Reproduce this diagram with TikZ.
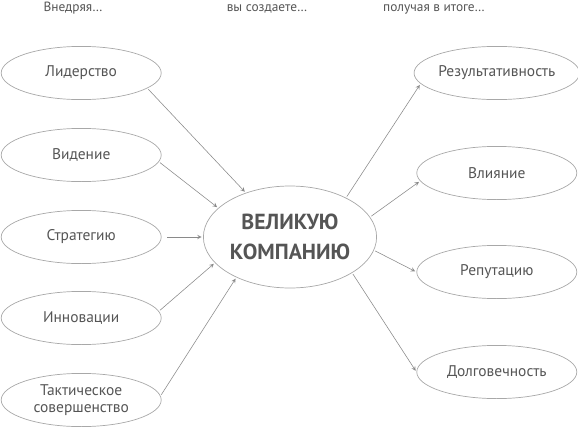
\documentclass[tikz,border=0pt]{standalone}
\usepackage{fontspec}
\setmainfont{PT Sans}
\usetikzlibrary{shapes.geometric}
\definecolor{txtgray}{HTML}{555555}
\definecolor{linegray}{HTML}{A8A8A8}
\definecolor{arrgray}{HTML}{8A8A8A}
\begin{document}
\begin{tikzpicture}[
	oval/.style={ellipse, draw=linegray, line width=0.5pt, inner sep=0pt,
		minimum width=4.0cm, minimum height=1.33cm, text=txtgray,
		font=\fontsize{11}{12.5}\selectfont, align=center},
	bigoval/.style={ellipse, draw=linegray, line width=0.5pt, inner sep=0pt,
		minimum width=4.33cm, minimum height=2.55cm, text=txtgray,
		font=\fontsize{15.5}{21}\selectfont\bfseries, align=center},
	head/.style={anchor=base, text=txtgray, font=\fontsize{9.5}{10}\selectfont},
	link/.style={->, >=stealth, arrgray, line width=0.4pt, shorten <=1pt, shorten >=1pt}]
	\useasboundingbox (0,0) rectangle (14.45,-10.675);
	% column heads
	\node[head] (H1) at (1.825,-0.28) {Внедряя\dots};
	\node[head] (H2) at (6.675,-0.28) {вы создаете\dots};
	\node[head] (H3) at (10.85,-0.28) {получая в итоге\dots};
	% left column
	\node[oval] (lid) at (2.03,-1.825) {Лидерство};
	\node[oval] (vid) at (2.03,-3.875) {Видение};
	\node[oval] (str) at (2.03,-5.925) {Стратегию};
	\node[oval] (inn) at (2.03,-7.95) {Инновации};
	\node[oval] (tak) at (2.03,-10.0) {Тактическое\\совершенство};
	% centre
	\node[bigoval] (vk) at (7.25,-5.925) {ВЕЛИКУЮ\\КОМПАНИЮ};
	% right column
	\node[oval] (res) at (12.42,-1.825) {Результативность};
	\node[oval] (vli) at (12.42,-4.325) {Влияние};
	\node[oval] (rep) at (12.42,-6.8) {Репутацию};
	\node[oval] (dol) at (12.42,-9.3) {Долговечность};
	% arrows in
	\draw[link] (lid.-13) -- (vk.135);
	\draw[link] (vid.-5) -- (vk.158);
	\draw[link, shorten <=4pt] (str.east) -- (vk.west);
	\draw[link] (inn.5) -- (vk.199);
	\draw[link] (tak.3) -- (vk.217);
	% arrows out
	\draw[link] (vk.35) -- (res.188);
	\draw[link] (vk.14) -- (vli.186);
	\draw[link] (vk.-9) -- (rep.west);
	\draw[link] (vk.-30) -- (dol.west);
\end{tikzpicture}
\end{document}
